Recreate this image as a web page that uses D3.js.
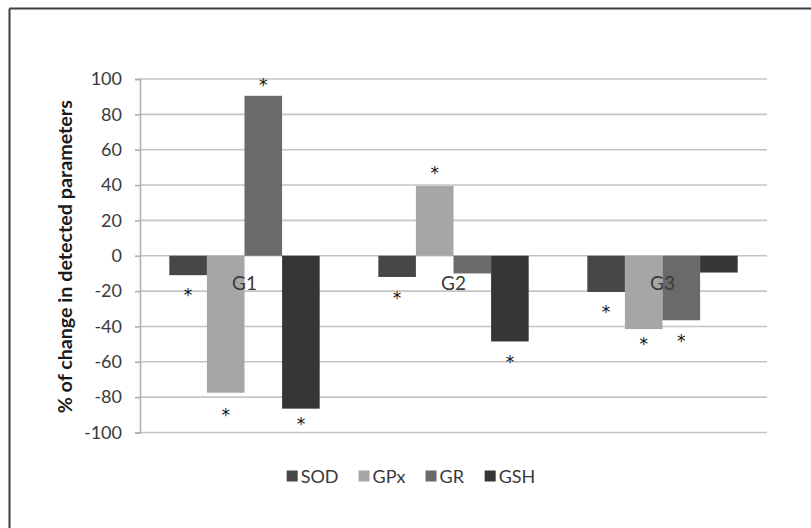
<!DOCTYPE html>
<html>
<head>
<meta charset="utf-8">
<script src="https://cdn.jsdelivr.net/npm/d3@7/dist/d3.min.js"></script>
<style>
  html, body { margin: 0; padding: 0; background: #fff; }
  svg { display: block; }
  text { font-family: Lato, "Open Sans", sans-serif; }
</style>
</head>
<body>
<svg id="chart" width="811" height="528"></svg>
<script>
// ---- data ----
const groups = ["G1", "G2", "G3"];
const seriesNames = ["SOD", "GPx", "GR", "GSH"];
const SOD = [-11, -12, -20.5];
const GPx = [-77.5, 39.5, -41.5];
const GR  = [90.5, -10, -36.5];
const GSH = [-86.5, -48.5, -9.5];
// level (in % units) at which the significance asterisk sits; null = none
const SOD_star = [-20, -22, -30];
const GPx_star = [-88, 49, -48];
const GR_star  = [98.5, null, -46];
const GSH_star = [-93, -58, null];
const yTicks = [-100, -80, -60, -40, -20, 0, 20, 40, 60, 80, 100];
const yTitle = "% of change in detected parameters";

const seriesValues = [SOD, GPx, GR, GSH];
const seriesStars = [SOD_star, GPx_star, GR_star, GSH_star];
const colors = ["#474747", "#a6a6a6", "#6a6a6a", "#363636"];

const svg = d3.select("#chart");

// frame (left and top edges visible)
svg.append("line").attr("x1", 9.5).attr("x2", 811).attr("y1", 8.5).attr("y2", 8.5)
  .attr("stroke", "#3f3f3f").attr("stroke-width", 2);
svg.append("line").attr("x1", 9.5).attr("x2", 9.5).attr("y1", 8.5).attr("y2", 528)
  .attr("stroke", "#3f3f3f").attr("stroke-width", 2);

const plot = { left: 140, right: 767, top: 79, bottom: 432.5 };

const y = d3.scaleLinear().domain([-100, 100]).range([plot.bottom, plot.top]);
const x0 = d3.scaleBand().domain(groups).range([plot.left, plot.right]).paddingInner(0).paddingOuter(0);
const x1 = d3.scaleBand().domain(seriesNames).range([0, x0.bandwidth()]).paddingInner(0).paddingOuter(0.78);

// gridlines
svg.append("g").selectAll("line").data(yTicks).join("line")
  .attr("x1", plot.left).attr("x2", plot.right)
  .attr("y1", d => y(d)).attr("y2", d => y(d))
  .attr("stroke", "#c4c4c4").attr("stroke-width", 1.6);

// y axis
const yAxis = d3.axisLeft(y).tickValues(yTicks).tickSize(5).tickPadding(13).tickFormat(d3.format("d"));
const gy = svg.append("g").attr("transform", `translate(${plot.left},0)`).call(yAxis);
gy.select(".domain").attr("stroke", "#b0b0b0").attr("stroke-width", 1.6);
gy.selectAll(".tick line").attr("stroke", "#b0b0b0").attr("stroke-width", 1.6);
gy.selectAll(".tick text").attr("font-size", 18).attr("fill", "#3a3a3a")
  .style("font-family", "Lato, 'Open Sans', sans-serif");
gy.selectAll(".tick text").text(d => d < 0 ? "-" + Math.abs(d) : d);

// bars
const gGroups = svg.append("g").selectAll("g").data(groups).join("g")
  .attr("transform", d => `translate(${x0(d)},0)`);

gGroups.selectAll("rect")
  .data((g, gi) => seriesNames.map((s, si) => ({ s, si, v: seriesValues[si][gi] })))
  .join("rect")
  .attr("x", d => x1(d.s))
  .attr("width", x1.bandwidth())
  .attr("y", d => y(Math.max(0, d.v)))
  .attr("height", d => Math.abs(y(d.v) - y(0)))
  .attr("fill", d => colors[d.si]);

// category labels
svg.append("g").selectAll("text").data(groups).join("text")
  .attr("x", d => x0(d) + x0.bandwidth() / 2)
  .attr("y", y(0) + 34)
  .attr("text-anchor", "middle")
  .attr("font-size", 19)
  .attr("fill", "#3a3a3a")
  .text(d => d);

// asterisks
gGroups.selectAll("text.star")
  .data((g, gi) => seriesNames.map((s, si) => ({ s, si, v: seriesStars[si][gi] })).filter(d => d.v !== null))
  .join("text")
  .attr("class", "star")
  .attr("x", d => x1(d.s) + x1.bandwidth() / 2)
  .attr("y", d => y(d.v) + 9.5)
  .attr("text-anchor", "middle")
  .attr("font-size", 17)
  .attr("fill", "#111")
  .style("font-family", "'DejaVu Sans', sans-serif")
  .text("*");

// y title
svg.append("text")
  .attr("transform", `translate(72,${(plot.top + plot.bottom) / 2 + 1}) rotate(-90)`)
  .attr("text-anchor", "middle")
  .attr("font-size", 19.7)
  .attr("font-weight", "bold")
  .attr("fill", "#1a1a1a")
  .text(yTitle);

// legend
const legendItems = seriesNames.map((s, i) => ({ s, c: colors[i] }));
const legend = svg.append("g");
let lx = 0;
const lg = legend.selectAll("g").data(legendItems).join("g");
lg.append("rect").attr("width", 11).attr("height", 11).attr("y", -5.5).attr("fill", d => d.c);
lg.append("text").attr("x", 14).attr("y", 6.5).attr("font-size", 18).attr("fill", "#3a3a3a").text(d => d.s);
lg.each(function () {
  d3.select(this).attr("transform", `translate(${lx},0)`);
  lx += this.getBBox().width + 20;
});
const lw = lx - 20;
legend.attr("transform", `translate(${411 - lw / 2},476)`);
</script>
</body>
</html>
